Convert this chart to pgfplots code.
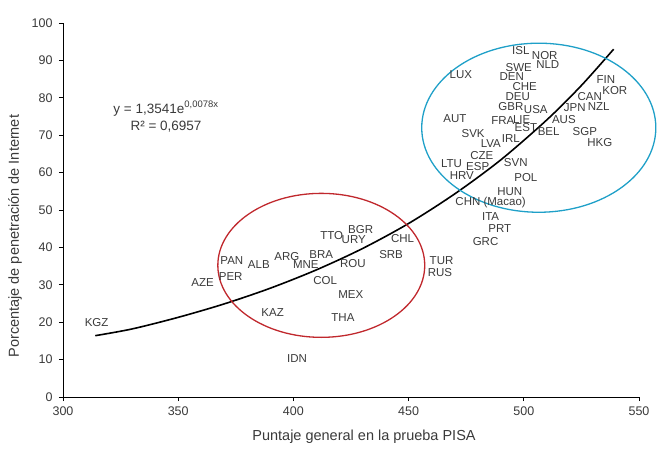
\documentclass[border=0pt]{standalone}
\usepackage{pgfplots}
\usepackage{pgfplotstable}
\pgfplotsset{compat=1.18}
\usepackage{fontspec}
\setmainfont{Liberation Sans}
\definecolor{lbl}{HTML}{3A3A3A}
\definecolor{redell}{HTML}{C0282D}
\definecolor{blueell}{HTML}{1FA0C8}

\pgfplotstableread{
x y label
498.7 92.7 ISL
509.1 91.3 NOR
510.4 89.0 NLD
472.7 86.3 LUX
497.8 88.0 SWE
494.8 85.7 DEN
500.4 83.0 CHE
497.4 80.4 DEU
494.4 77.7 GBR
505.2 76.9 USA
535.6 84.9 FIN
539.5 82.0 KOR
528.6 80.4 CAN
522.1 77.4 JPN
532.5 77.7 NZL
517.4 74.3 AUS
470.1 74.4 AUT
490.9 74.0 FRA
499.1 74.3 LIE
500.9 72.0 EST
510.8 71.0 BEL
526.5 70.9 SGP
533.0 68.1 HKG
478.0 70.4 SVK
485.7 67.8 LVA
494.4 69.0 IRL
481.8 64.6 CZE
468.6 62.4 LTU
480.0 61.7 ESP
496.5 62.7 SVN
473.1 59.2 HRV
500.9 58.8 POL
493.9 55.0 HUN
485.6 52.0 {CHN (Macao)}
485.6 48.3 ITA
489.6 45.1 PRT
483.4 41.7 GRC
416.6 43.2 TTO
429.2 44.8 BGR
426.2 42.1 URY
447.4 42.4 CHL
412.1 38.2 BRA
397.2 37.6 ARG
405.4 35.5 MNE
425.8 35.8 ROU
442.4 38.2 SRB
385.0 35.3 ALB
464.3 36.6 TUR
463.6 33.4 RUS
413.8 31.2 COL
424.9 27.5 MEX
391.0 22.5 KAZ
421.5 21.3 THA
401.6 10.4 IDN
373.3 36.6 PAN
372.8 32.1 PER
360.6 30.5 AZE
314.6 19.8 KGZ
}\countries

\begin{document}
\begin{tikzpicture}
\useasboundingbox (-63pt,-51pt) rectangle (595pt,397pt);
\begin{axis}[
  at={(0,0)}, anchor=south west,
  scale only axis, width=576pt, height=374pt,
  xmin=300, xmax=550, ymin=0, ymax=100,
  xtick={300,350,...,550}, ytick={0,10,...,100},
  axis x line*=bottom, axis y line*=left,
  x axis line style={-}, y axis line style={-},
  axis line style={black, line width=0.9pt},
  tick align=outside, major tick length=4pt,
  tick style={black, line width=0.8pt},
  /pgf/number format/assume math mode=true,
  ticklabel style={font=\fontsize{12.5}{14}\selectfont, text=lbl},
  xticklabel style={yshift=-2pt},
  yticklabel style={xshift=-3pt},
  xlabel={Puntaje general en la prueba PISA},
  ylabel={Porcentaje de penetración de Internet},
  label style={font=\fontsize{14.5}{16}\selectfont, text=lbl},
  xlabel style={at={(axis description cs:0.5226,-0.107)}, anchor=center},
  ylabel style={at={(axis description cs:-0.0833,0.43)}, anchor=center},
  clip=false,
]
\addplot[draw=none, mark=none, nodes near coords, point meta=explicit symbolic,
  nodes near coords style={anchor=center, inner sep=0pt, text=lbl, font=\fontsize{11.5}{13}\selectfont}]
  table[x=x, y=y, meta=label] {\countries};
\addplot[black, line width=1.6pt, smooth] coordinates {
(314,16.4) (330,18.2) (350,21.3) (370,24.9) (390,29.1) (410,34.0) (430,39.7)
(450,46.4) (470,54.3) (490,63.4) (510,74.1) (525,83.3) (539,93.0)};
\draw[redell, line width=1.3pt] (axis cs:412.1,35.2) ellipse [x radius=44.9, y radius=19.25];
\draw[blueell, line width=1.3pt] (axis cs:506.5,72.0) ellipse [x radius=50.8, y radius=22.6];
\node[align=center, text=lbl, font=\fontsize{13.5}{17}\selectfont] at (axis cs:344.7,75) {y = 1,3541e\textsuperscript{0,0078x}\\R² = 0,6957};
\end{axis}
\end{tikzpicture}
\end{document}
